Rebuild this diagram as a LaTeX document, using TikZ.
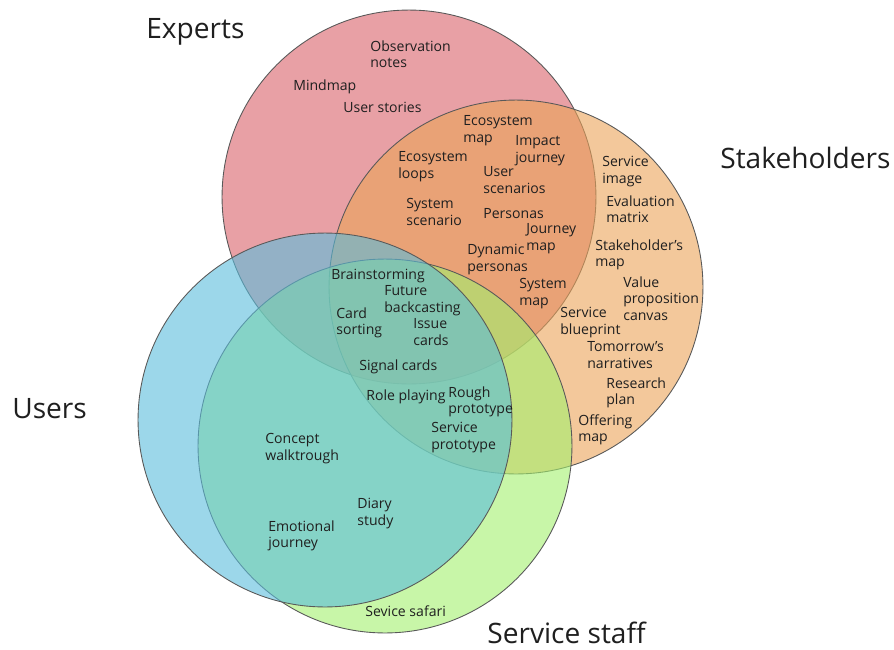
\documentclass[tikz,border=0pt]{standalone}
\usepackage{fontspec}
\setmainfont{Open Sans}
\usepackage{tikz}
\definecolor{expertred}{RGB}{217,97,105}
\definecolor{stakeorange}{RGB}{235,163,88}
\definecolor{userblue}{RGB}{90,189,220}
\definecolor{staffgreen}{RGB}{163,240,110}
\definecolor{txt}{gray}{0.12}
\tikzset{
    % Define style for the four sets
    venn/.style={
           circle,
           draw=black!65, line width=0.5pt,
           fill opacity=0.6,
           minimum size=7.48cm,
           inner sep=0pt},
    % Define style for set names
    setname/.style={anchor=base west, inner sep=0pt, text=txt, font=\fontsize{16}{19}\selectfont},
    % Define style for method labels
    method/.style={
           anchor=north west,
           inner sep=0pt,
           align=left,
           text=txt,
           font=\fontsize{8}{9.6}\selectfont,
           execute at begin node=\strut}
}

\begin{document}
\begin{tikzpicture}[x=0.02cm, y=-0.02cm]
  \useasboundingbox (0,0) rectangle (894,650);
  % the four sets
  \node[venn, fill=expertred  ] (experts) at (409,197) {};
  \node[venn, fill=stakeorange] (stakeh)  at (516,287) {};
  \node[venn, fill=staffgreen ] (staff)   at (385,446) {};
  \node[venn, fill=userblue   ] (users)   at (325,420) {};
  % set names
  \node[setname] (expertsname) at (146,38)  {Experts};
  \node[setname] (stakehname)  at (720,168) {Stakeholders};
  \node[setname] (usersname)   at (12,418)  {Users};
  \node[setname] (staffname)   at (487,643) {Service staff};
  % experts only
  \node[method] (obsnotes)  at (370,40)  {Observation\\notes};
  \node[method] (mindmap)   at (293,78)  {Mindmap};
  \node[method] (userstor)  at (343,100) {User stories};
  % experts and stakeholders
  \node[method] (ecomap)    at (463,115) {Ecosystem\\map};
  \node[method] (impact)    at (515,135) {Impact\\journey};
  \node[method] (ecoloops)  at (398,151) {Ecosystem\\loops};
  \node[method] (userscen)  at (483,166) {User\\scenarios};
  \node[method] (sysscen)   at (406,198) {System\\scenario};
  \node[method] (personas)  at (483,206) {Personas};
  \node[method] (journey)   at (526,223) {Journey\\map};
  \node[method] (dynpers)   at (467,244) {Dynamic\\personas};
  \node[method] (sysmap)    at (519,278) {System\\map};
  % stakeholders only
  \node[method] (servimage) at (602,156) {Service\\image};
  \node[method] (evalmat)   at (606,195) {Evaluation\\matrix};
  \node[method] (stakemap)  at (595,239) {Stakeholder’s\\map};
  \node[method] (valprop)   at (623,276) {Value\\proposition\\canvas};
  \node[method] (blueprint) at (560,307) {Service\\blueprint};
  \node[method] (tomorrow)  at (587,341) {Tomorrow’s\\narratives};
  \node[method] (research)  at (606,377) {Research\\plan};
  \node[method] (offering)  at (578,414) {Offering\\map};
  % centre
  \node[method] (brainst)   at (331,267) {Brainstorming};
  \node[method] (future)    at (384,285) {Future\\backcasting};
  \node[method] (cardsort)  at (336,307) {Card\\sorting};
  \node[method] (issue)     at (413,318) {Issue\\cards};
  \node[method] (signal)    at (359,358) {Signal cards};
  % users and service staff
  \node[method] (roleplay)  at (366,388) {Role playing};
  \node[method] (rough)     at (448,386) {Rough\\prototype};
  \node[method] (servproto) at (431,422) {Service\\prototype};
  \node[method] (concept)   at (265,433) {Concept\\walktrough};
  \node[method] (diary)     at (357,498) {Diary\\study};
  \node[method] (emotional) at (268,520) {Emotional\\journey};
  % service staff only
  \node[method] (safari)    at (365,604) {Sevice safari};
\end{tikzpicture}
\end{document}
